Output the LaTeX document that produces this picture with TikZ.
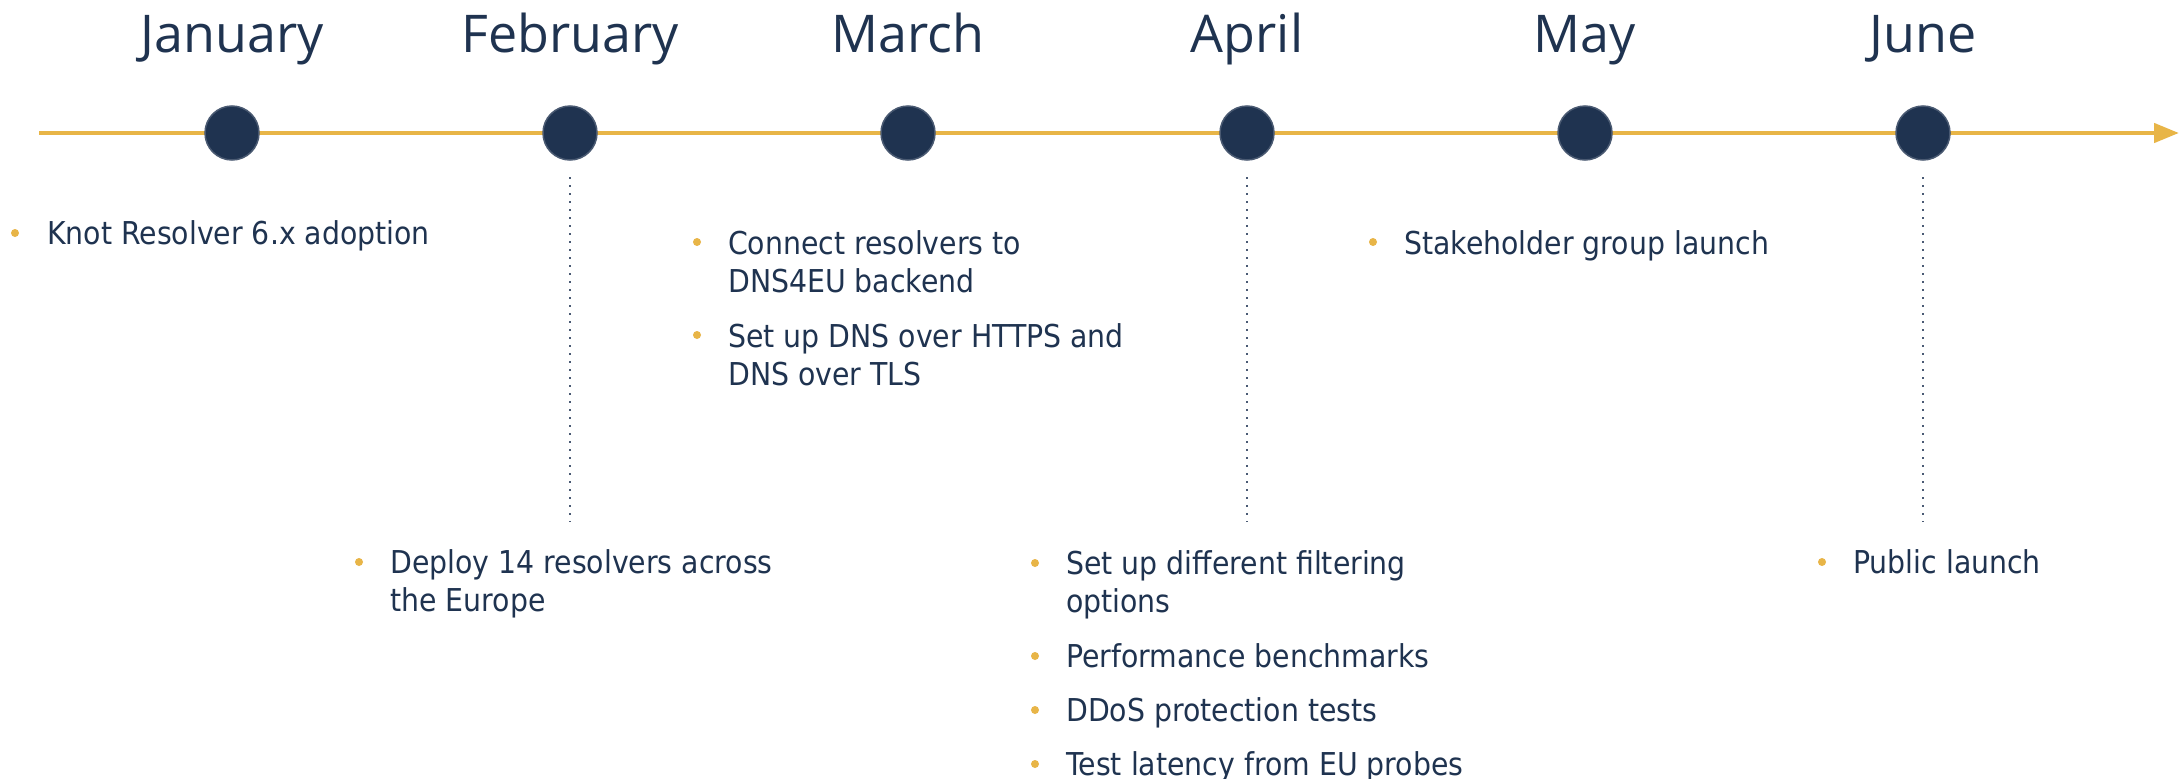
\documentclass[tikz,border=0pt]{standalone}
\usepackage{fontspec}
\usetikzlibrary{arrows.meta}
\newfontfamily\bodyfont{DejaVu Sans}[FakeStretch=0.9]
\newfontfamily\monthfont{Open Sans}
\definecolor{navy}{HTML}{1F3350}
\definecolor{gold}{HTML}{E8B547}
\definecolor{ringcol}{HTML}{4A5A72}
\definecolor{leadcol}{HTML}{4A5A74}
\newcommand{\lines}[1]{\begin{tabular}[t]{@{}l@{}}#1\end{tabular}}
\tikzset{
  month/.style={font=\monthfont\fontsize{52}{60}\selectfont, text=navy, anchor=base, inner sep=0pt},
  itemtext/.style={font=\bodyfont\fontsize{31.5}{38}\selectfont, text=navy, anchor=base west, inner sep=0pt},
  bul/.style={circle, fill=gold, minimum size=8pt, inner sep=0pt},
  milestone/.style={circle, fill=navy, draw=ringcol, line width=1.5pt, minimum size=54pt, inner sep=0pt},
  leader/.style={draw=leadcol, line width=2.4pt, dash pattern=on 2.4pt off 5.6pt},
  axis/.style={draw=gold, line width=4.5pt, -{Triangle[length=25pt,width=19pt]}}
}
\begin{document}
\begin{tikzpicture}[x=1pt,y=-1pt]
\useasboundingbox[fill=white] (0,0) rectangle (2182,779);

% timeline axis
\coordinate (axstart) at (39,133);
\coordinate (axend) at (2179,133);
\draw[axis] (axstart) -- (axend);

% milestones
\node[milestone] (jan) at (232,133) {};
\node[milestone] (feb) at (570,133) {};
\node[milestone] (mar) at (908,133) {};
\node[milestone] (apr) at (1247,133) {};
\node[milestone] (may) at (1585,133) {};
\node[milestone] (jun) at (1923,133) {};

% month labels
\node[month] (janlbl) at (232,52) {January};
\node[month] (feblbl) at (570,52) {February};
\node[month] (marlbl) at (908,52) {March};
\node[month] (aprlbl) at (1247,52) {April};
\node[month] (maylbl) at (1585,52) {May};
\node[month] (junlbl) at (1923,52) {June};

% dotted leaders
\coordinate (febtop) at (570,177);
\coordinate (febbot) at (570,522);
\coordinate (aprtop) at (1247,177);
\coordinate (aprbot) at (1247,522);
\coordinate (juntop) at (1923,177);
\coordinate (junbot) at (1923,522);
\draw[leader] (febtop) -- (febbot);
\draw[leader] (aprtop) -- (aprbot);
\draw[leader] (juntop) -- (junbot);

% January
\node[bul] (janb1) at (15,233) {};
\node[itemtext] (jant1) at (47,244) {Knot Resolver 6.x adoption};

% February
\node[bul] (febb1) at (359,562) {};
\node[itemtext] (febt1) at (390,573) {\lines{Deploy 14 resolvers across\\the Europe}};

% March
\node[bul] (marb1) at (697,242) {};
\node[itemtext] (mart1) at (728,254) {\lines{Connect resolvers to\\DNS4EU backend}};
\node[bul] (marb2) at (697,335) {};
\node[itemtext] (mart2) at (728,347) {\lines{Set up DNS over HTTPS and\\DNS over TLS}};

% April
\node[bul] (aprb1) at (1035,563) {};
\node[itemtext] (aprt1) at (1066,574) {\lines{Set up different filtering\\options}};
\node[bul] (aprb2) at (1035,656) {};
\node[itemtext] (aprt2) at (1066,667) {Performance benchmarks};
\node[bul] (aprb3) at (1035,710) {};
\node[itemtext] (aprt3) at (1066,721) {DDoS protection tests};
\node[bul] (aprb4) at (1035,764) {};
\node[itemtext] (aprt4) at (1066,775) {Test latency from EU probes};

% May
\node[bul] (mayb1) at (1373,242) {};
\node[itemtext] (mayt1) at (1404,254) {Stakeholder group launch};

% June
\node[bul] (junb1) at (1822,562) {};
\node[itemtext] (junt1) at (1853,573) {Public launch};
\end{tikzpicture}
\end{document}
